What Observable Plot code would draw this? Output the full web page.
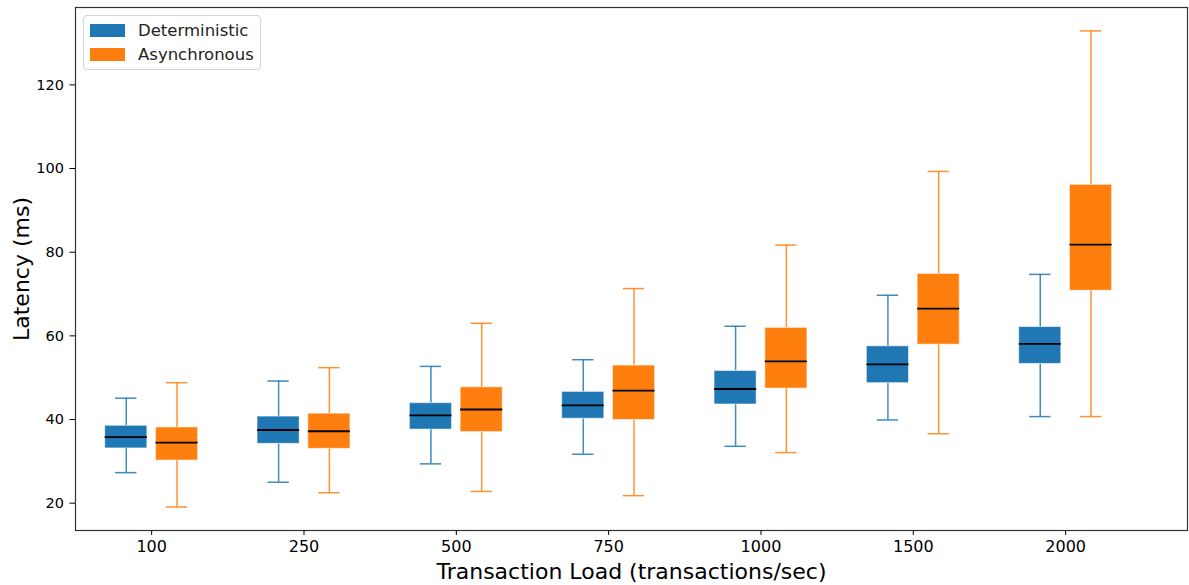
<!DOCTYPE html>
<html>
<head>
<meta charset="utf-8">
<script src="https://cdn.jsdelivr.net/npm/d3@7"></script>
<script src="https://cdn.jsdelivr.net/npm/@observablehq/plot@0.6"></script>
<style>
  html, body { margin: 0; padding: 0; background: #fff; }
  #wrap { position: relative; width: 1189px; height: 585px; font-family: "DejaVu Sans", sans-serif; }
  #legend { position: absolute; left: 83px; top: 15px; width: 178px; height: 55px; border: 1px solid #d6d6d6; border-radius: 4px; background: rgba(255,255,255,0.8); box-sizing: border-box; }
  .row { position: absolute; left: 6px; height: 14px; display: flex; align-items: center; }
  .sw { width: 35px; height: 13px; margin-right: 13px; }
  .lab { font-size: 16.5px; color: #222; white-space: nowrap; }
</style>
</head>
<body>
<div id="wrap"></div>
<script>
const loads = ["100", "250", "500", "750", "1000", "1500", "2000"];
const seriesNames = ["Deterministic", "Asynchronous"];
const seriesColors = ["#1f77b4", "#ff7f0e"];

const detMin = [27.3, 25.0, 29.4, 31.7, 33.6, 39.9, 40.7];
const detQ1  = [33.1, 34.2, 37.6, 40.2, 43.6, 48.7, 53.3];
const detMed = [35.8, 37.5, 41.0, 43.4, 47.3, 53.2, 58.1];
const detQ3  = [38.5, 40.7, 43.9, 46.6, 51.6, 57.5, 62.1];
const detMax = [45.1, 49.2, 52.7, 54.3, 62.3, 69.7, 74.7];

const asyMin = [19.1, 22.5, 22.8, 21.8, 32.1, 36.6, 40.7];
const asyQ1  = [30.2, 33.0, 37.0, 39.9, 47.4, 57.9, 70.8];
const asyMed = [34.5, 37.2, 42.4, 46.9, 53.9, 66.5, 81.8];
const asyQ3  = [38.1, 41.4, 47.7, 52.9, 61.9, 74.8, 96.1];
const asyMax = [48.8, 52.4, 63.0, 71.3, 81.7, 99.3, 132.9];

const yTicks = [20, 40, 60, 80, 100, 120];

// build a table for the marks
const offset = 1 / 6;   // group offset of each series (in category units)
const halfBox = 0.138;  // half box width
const halfCap = 0.07;   // half cap width
const rows = [];
const stats = [
  [detMin, detQ1, detMed, detQ3, detMax],
  [asyMin, asyQ1, asyMed, asyQ3, asyMax]
];
stats.forEach((s, si) => {
  loads.forEach((l, i) => {
    const c = i + (si === 0 ? -offset : offset);
    rows.push({
      series: seriesNames[si], color: seriesColors[si], c,
      min: s[0][i], q1: s[1][i], med: s[2][i], q3: s[3][i], max: s[4][i]
    });
  });
});

const font = "DejaVu Sans, sans-serif";

const chart = Plot.plot({
  width: 1189,
  height: 585,
  marginLeft: 75,
  marginRight: 2,
  marginTop: 7,
  marginBottom: 55,
  style: { fontFamily: font, background: "#fff", color: "#000" },
  x: { type: "linear", domain: [-0.5, 6.8] },
  y: { domain: [13.47, 138.5] },
  marks: [
    Plot.ruleX(rows, { x: "c", y1: "min", y2: "q1", stroke: "color", strokeWidth: 1.5, strokeOpacity: 0.85 }),
    Plot.ruleX(rows, { x: "c", y1: "q3", y2: "max", stroke: "color", strokeWidth: 1.5, strokeOpacity: 0.85 }),
    Plot.ruleY(rows, { y: "min", x1: d => d.c - halfCap, x2: d => d.c + halfCap, stroke: "color", strokeWidth: 1.5, strokeOpacity: 0.85 }),
    Plot.ruleY(rows, { y: "max", x1: d => d.c - halfCap, x2: d => d.c + halfCap, stroke: "color", strokeWidth: 1.5, strokeOpacity: 0.85 }),
    Plot.rect(rows, { x1: d => d.c - halfBox, x2: d => d.c + halfBox, y1: "q1", y2: "q3", fill: "color", stroke: "#fff", strokeOpacity: 0.5, strokeWidth: 1 }),
    Plot.ruleY(rows, { y: "med", x1: d => d.c - halfBox, x2: d => d.c + halfBox, stroke: "#000", strokeWidth: 1.8 }),
    Plot.frame({ stroke: "#333", strokeWidth: 1.2 }),
    Plot.axisY({ ticks: yTicks, tickSize: 5.5, tickPadding: 6, fontSize: 14.5, label: null, tickFormat: d => String(d) }),
    Plot.axisX({ ticks: loads.map((_, i) => i), tickFormat: i => loads[i], tickSize: 5, tickPadding: 5, fontSize: 16, label: null }),
    Plot.text(["Latency (ms)"], { frameAnchor: "left", textAnchor: "middle", lineAnchor: "middle", rotate: -90, dx: -54, fontSize: 22, fill: "#000" }),
    Plot.text(["Transaction Load (transactions/sec)"], { frameAnchor: "bottom", textAnchor: "middle", lineAnchor: "middle", dy: 41, fontSize: 22, fill: "#000" })
  ]
});

const wrap = document.getElementById("wrap");
wrap.appendChild(chart);

const legend = document.createElement("div");
legend.id = "legend";
seriesNames.forEach((name, i) => {
  const row = document.createElement("div");
  row.className = "row";
  row.style.top = (7 + i * 24) + "px";
  const sw = document.createElement("div");
  sw.className = "sw";
  sw.style.background = seriesColors[i];
  const lab = document.createElement("span");
  lab.className = "lab";
  lab.textContent = name;
  row.appendChild(sw);
  row.appendChild(lab);
  legend.appendChild(row);
});
wrap.appendChild(legend);
</script>
</body>
</html>
